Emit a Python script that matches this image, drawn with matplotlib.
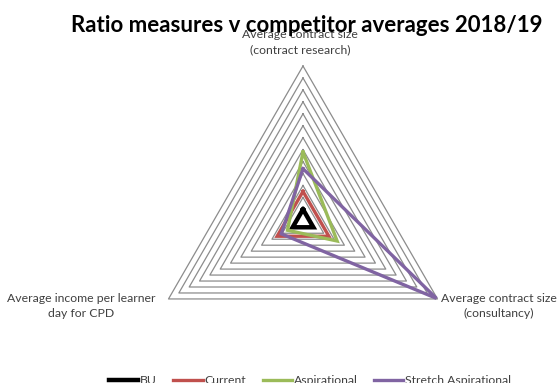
import numpy as np
import matplotlib
matplotlib.use('Agg')
import matplotlib.pyplot as plt

categories = ['Average contract size\n(contract research)',
              'Average contract size\n(consultancy)',
              'Average income per learner\nday for CPD']
series_names = ['BU', 'Current', 'Aspirational', 'Stretch Aspirational']
bu = [1, 1, 1]
current = [2.5, 2.5, 2.5]
aspirational = [5.8, 3.3, 1.5]
stretch = [4.4, 12.9, 2.1]
rings = list(range(1, 14))

colours = ['#000000', '#C0504D', '#9BBB59', '#8064A2']
widths = [3.2, 2.4, 2.4, 2.4]

plt.rcParams['font.family'] = ['Lato', 'DejaVu Sans']

fig = plt.figure(figsize=(5.6, 3.83), dpi=100)
ax = fig.add_axes([0, 0, 1, 1])
ax.axis('off')

# scale: pixels per unit
ppu = 155.3 / 13
cx, cy = 303, 383 - 221.3
ax.set_xlim(-cx / ppu, (560 - cx) / ppu)
ax.set_ylim(-cy / ppu, (383 - cy) / ppu)

theta = np.radians([90, -30, 210])

def closed_xy(vals):
    r = np.array(list(vals) + [vals[0]], dtype=float)
    t = np.append(theta, theta[0])
    return r * np.cos(t), r * np.sin(t)

for rv in rings:
    x, y = closed_xy([rv] * 3)
    ax.plot(x, y, color='#8c8c8c', lw=0.9, zorder=1)

for name, vals, c, w in zip(series_names, [bu, current, aspirational, stretch], colours, widths):
    x, y = closed_xy(vals)
    ax.plot(x, y, color=c, lw=w, label=name, zorder=3, solid_joinstyle='miter')

# category labels
lab = dict(ha='center', va='center', fontsize=8.8, color='#404040', linespacing=1.5)
fig.text(300 / 560, 1 - 42 / 383, categories[0], **lab)
fig.text(499 / 560, 1 - 306 / 383, categories[1], **lab)
fig.text(81 / 560, 1 - 306 / 383, categories[2], **lab)

fig.text(307 / 560, 1 - 25 / 383, 'Ratio measures v competitor averages 2018/19',
         ha='center', va='center', fontsize=16, fontweight='bold', color='black')

fig.legend(loc='center', bbox_to_anchor=(310 / 560, 1 - 381 / 383), ncol=4,
           frameon=False, fontsize=8.8, handlelength=2.4, handletextpad=0.15,
           columnspacing=1.35, labelcolor='#404040')

fig.savefig('out.png', dpi=100)
